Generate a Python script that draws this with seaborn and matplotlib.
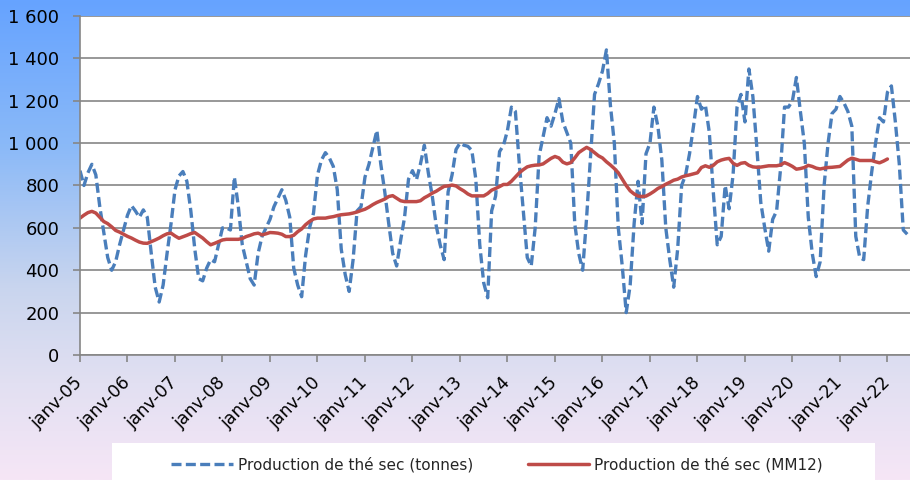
import numpy as np
import pandas as pd
import seaborn as sns
import matplotlib.pyplot as plt
from matplotlib.colors import LinearSegmentedColormap
from matplotlib.patches import Rectangle
from matplotlib.ticker import FuncFormatter

# data (monthly, janv-05 .. juin-22)

annees = ["janv-%02d" % a for a in range(5, 23)]

production = [
    870, 800, 860, 900, 850, 700, 580, 460, 400, 440, 520, 590,      # 2005
    660, 705, 680, 650, 685, 650, 480, 320, 250, 330, 480, 620,      # 2006
    780, 845, 866, 820, 680, 500, 360, 350, 410, 450, 440, 520,      # 2007
    600, 600, 590, 840, 700, 520, 440, 360, 330, 480, 560, 600,      # 2008
    640, 700, 740, 780, 730, 650, 410, 330, 275, 470, 600, 670,      # 2009
    850, 920, 955, 930, 890, 780, 500, 380, 300, 450, 680, 700,      # 2010
    840, 900, 980, 1060, 900, 770, 620, 480, 420, 540, 650, 830,     # 2011
    870, 827, 900, 990, 860, 750, 610, 520, 450, 770, 850, 970,      # 2012
    1000, 990, 985, 965, 830, 520, 340, 270, 680, 750, 960, 990,     # 2013
    1060, 1170, 1150, 900, 680, 460, 420, 600, 940, 1030, 1120, 1080,  # 2014
    1140, 1210, 1100, 1050, 1000, 620, 480, 400, 650, 940, 1230, 1280,  # 2015
    1340, 1440, 1180, 1000, 600, 420, 200, 330, 620, 820, 620, 950,   # 2016
    1000, 1170, 1080, 920, 600, 450, 320, 500, 800, 850, 950, 1080,   # 2017
    1220, 1160, 1180, 1050, 770, 520, 560, 800, 690, 850, 1170, 1230,  # 2018
    1100, 1350, 1220, 980, 720, 600, 490, 640, 680, 880, 1170, 1170,   # 2019
    1200, 1310, 1150, 1000, 650, 480, 370, 440, 800, 1000, 1140, 1160,  # 2020
    1220, 1190, 1150, 1080, 560, 460, 450, 700, 860, 1000, 1120, 1100,  # 2021
    1240, 1270, 1100, 900, 590, 570,                                   # 2022
]

mm12 = [
    646, 660, 672, 678, 670, 650, 630, 620, 605, 588, 580, 570,
    560, 552, 542, 533, 528, 527, 535, 543, 552, 563, 572, 575,
    562, 551, 558, 565, 573, 578, 565, 552, 535, 520, 527, 535,
    543, 546, 546, 546, 546, 550, 559, 565, 572, 575, 567, 572,
    578, 577, 575, 570, 559, 559, 565, 582, 595, 615, 630, 642,
    646, 646, 646, 650, 653, 658, 662, 664, 666, 670, 675, 682,
    688, 698, 710, 720, 728, 736, 748, 752, 740, 728, 724, 724,
    724, 724, 728, 742, 752, 764, 773, 785, 796, 798, 802, 798,
    785, 774, 760, 751, 751, 751, 751, 762, 778, 786, 795, 805,
    805, 820, 840, 860, 875, 888, 893, 896, 897, 902, 915, 928,
    937, 930, 910, 902, 908, 930, 955, 968, 980, 970, 955, 940,
    930, 912, 897, 880, 860, 830, 800, 775, 760, 750, 748, 750,
    760, 772, 786, 795, 806, 815, 825, 830, 840, 846, 850, 855,
    860, 885, 893, 886, 895, 912, 920, 925, 928, 905, 895, 905,
    908, 895, 888, 886, 887, 890, 893, 893, 893, 897, 908, 900,
    890, 877, 880, 885, 895, 890, 882, 878, 882, 885, 886, 888,
    890, 905, 920, 929, 924, 918, 918, 918, 918, 912, 907, 915,
    925,
]

n = len(production)
df = pd.DataFrame({
    "mois": np.arange(n),
    "production": production,
    "mm12": mm12 + [np.nan] * (n - len(mm12)),
})

bleu = "#4a7ebb"
rouge = "#be4b48"
gris = "#868686"

sns.set_style("white")
plt.rcParams["font.family"] = ["Liberation Sans Narrow", "DejaVu Sans"]

fig = plt.figure(figsize=(9.1, 4.8), dpi=100)

# gradient background

cmap = LinearSegmentedColormap.from_list("fond", [
    (0.0, "#66a3ff"),
    (0.30, "#8ab9f8"),
    (0.60, "#c9d5ee"),
    (0.80, "#e2e0f2"),
    (1.0, "#f6e6f6"),
])
bg = fig.add_axes([0, 0, 1, 1], zorder=-10)
bg.imshow(np.linspace(0, 1, 256).reshape(-1, 1), cmap=cmap,
          aspect="auto", extent=[0, 1, 0, 1])
bg.axis("off")

ax = fig.add_axes([80 / 910, 125 / 480, 830 / 910, 339 / 480])
ax.set_facecolor("white")

sns.lineplot(data=df, x="mois", y="production", ax=ax, color=bleu,
             linewidth=2.4, label="Production de thé sec (tonnes)")
ax.lines[-1].set_dashes((3, 1.3))
sns.lineplot(data=df, x="mois", y="mm12", ax=ax, color=rouge,
             linewidth=2.5, label="Production de thé sec (MM12)")

ax.set_xlim(0, 209.7)
ax.set_ylim(0, 1600)
ax.set_yticks(range(0, 1601, 200))
ax.yaxis.set_major_formatter(FuncFormatter(lambda v, p: f"{int(v):,}".replace(",", " ")))
ax.set_xticks(range(0, 205, 12))
ax.set_xticklabels(annees, rotation=45, ha="right", rotation_mode="anchor", va="center")

ax.set_xlabel("")
ax.set_ylabel("")

ax.yaxis.grid(True, color=gris, linewidth=1.2)
ax.set_axisbelow(True)
for s in ["top", "right"]:
    ax.spines[s].set_visible(False)
for s in ["left", "bottom"]:
    ax.spines[s].set_color(gris)
    ax.spines[s].set_linewidth(1.2)

ax.tick_params(axis="y", direction="out", length=5, width=1.2, color=gris,
               labelsize=13, pad=10, labelcolor="black", left=True)
ax.tick_params(axis="x", direction="out", length=5, width=1.2, color=gris,
               labelsize=12.5, pad=13, labelcolor="black", bottom=True)

# legend

ax.get_legend().remove()
fig.patches.append(Rectangle((112 / 910, 0), 763 / 910, 37 / 480,
                             transform=fig.transFigure, facecolor="white",
                             edgecolor="none", zorder=1))
handles, labels = ax.get_legend_handles_labels()
fig.legend(handles, labels, loc="center", bbox_to_anchor=(497 / 910, 15 / 480),
           ncol=2, frameon=False, fontsize=11, handlelength=4.0,
           handletextpad=0.33, columnspacing=3.6)

fig.savefig("out.png", dpi=100)
